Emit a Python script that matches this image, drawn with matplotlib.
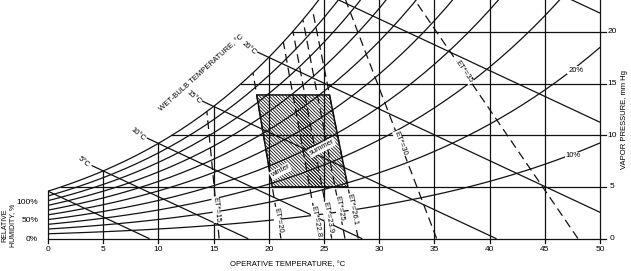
import numpy as np
import matplotlib.pyplot as plt
from matplotlib.patches import Polygon

plt.rcParams['font.family'] = ['Liberation Sans', 'DejaVu Sans']
plt.rcParams['hatch.linewidth'] = 0.6

# saturation vapour pressure (mm Hg) at 0..50 degC, steam table
t_table = np.arange(0, 51)
p_sat = np.array([4.579, 4.926, 5.294, 5.685, 6.101, 6.543, 7.013, 7.513, 8.045, 8.609,
                  9.209, 9.844, 10.518, 11.231, 11.987, 12.788, 13.634, 14.530, 15.477, 16.477,
                  17.535, 18.650, 19.827, 21.068, 22.377, 23.756, 25.209, 26.739, 28.349, 30.043,
                  31.824, 33.695, 35.663, 37.729, 39.898, 42.175, 44.563, 47.067, 49.692, 52.442,
                  55.324, 58.34, 61.50, 64.80, 68.26, 71.88, 75.65, 79.60, 83.71, 88.02, 92.51])

rh_levels = [10, 20, 30, 40, 50, 60, 70, 80, 90, 100]
wet_bulb = [0, 5, 10, 15, 20, 25, 30]
wb_slope = 0.5  # mm Hg per degC

temp_ticks = [0, 5, 10, 15, 20, 25, 30, 35, 40, 45, 50]
vp_ticks = [0, 5, 10, 15, 20]
rh_tick_labels = ['100%', '50%', '0%']
rh_tick_p = [3.5, 1.7, -0.1]

# ET* lines: temperature where the line meets p=0 and its slope dT/dp
et_names = ['15', '20', '22.8', '23.9', '25', '26.1', '30', '35']
et_t0 = [15.5, 21.1, 24.55, 25.7, 26.9, 28.1, 35.2, 48.0]
et_slope = [-0.09, -0.158, -0.17, -0.175, -0.18, -0.187, -0.357, -0.64]
et_label_p = [2.8, 1.8, 1.6, 2.0, 2.9, 2.8, 9.2, 16.1]

# comfort zones (ET* limits) and humidity limits, mm Hg
winter_et = (1, 3)   # index into et lists: 20 .. 23.9
summer_et = (2, 5)   # 22.8 .. 26.1
zone_p_low = 5.0
zone_p_high = 13.9

x_max = 50
y_top = 23.09

fig = plt.figure(figsize=(6.31, 2.71), dpi=100)
ax = fig.add_axes([48 / 631, 32.5 / 271, 552 / 631, 238.5 / 271])
ax.set_xlim(0, x_max)
ax.set_ylim(0, y_top)
ax.axis('off')

px_x = 552 / x_max
px_y = 238.5 / y_top

lc = '#111111'
lw = 0.9


def et_T(i, p):
    return et_t0[i] + et_slope[i] * p


# vertical temperature lines (stop at saturation)
for t in temp_ticks:
    top = min(np.interp(t, t_table, p_sat), y_top)
    ax.plot([t, t], [-0.4, top], color=lc, lw=lw, clip_on=False)

# horizontal vapour pressure lines
for p in vp_ticks:
    start = np.interp(p, p_sat, t_table) if p > 0 else 0
    ax.plot([start, x_max + 0.5], [p, p], color=lc, lw=lw, clip_on=False)

# relative humidity curves
for rh in rh_levels:
    ax.plot(t_table, p_sat * rh / 100, color=lc, lw=lw)

# wet-bulb lines
for wb in wet_bulb:
    ps = np.interp(wb, t_table, p_sat)
    t_end = min(wb + ps / wb_slope, x_max)
    t_start = wb - 1.0
    ax.plot([t_start, t_end], [ps + wb_slope, ps - wb_slope * (t_end - wb)], color=lc, lw=lw)
    if wb <= 20:
        ax.annotate(f'{wb}°C', (wb - 1.0, ps + wb_slope), xytext=(-9, 4),
                    textcoords='offset pixels', fontsize=5.5, rotation=-40,
                    ha='center', va='center')

# ET* lines (dashed), clipped at saturation
p_grid = np.linspace(0, y_top, 800)
for i, name in enumerate(et_names):
    tt = et_T(i, p_grid)
    ok = p_grid <= np.interp(tt, t_table, p_sat)
    p_end = p_grid[ok].max()
    ax.plot([et_T(i, 0), et_T(i, p_end)], [0, p_end], color=lc, lw=lw,
            dashes=(7, 4))
    ang = np.degrees(np.arctan2(-px_y, -et_slope[i] * px_x))
    pl = et_label_p[i]
    ax.text(et_T(i, pl), pl, f'ET*={name}', fontsize=5.5, rotation=ang,
            ha='center', va='center', rotation_mode='anchor',
            bbox=dict(fc='white', ec='none', pad=0.3))


def zone(i0, i1):
    return [(et_T(i0, zone_p_low), zone_p_low), (et_T(i1, zone_p_low), zone_p_low),
            (et_T(i1, zone_p_high), zone_p_high), (et_T(i0, zone_p_high), zone_p_high)]


ax.add_patch(Polygon(zone(*winter_et), closed=True, fill=False,
                     hatch='\\\\\\\\\\\\\\\\\\\\', ec=lc, lw=0))
ax.add_patch(Polygon(zone(*summer_et), closed=True, fill=False,
                     hatch='\\\\\\\\\\\\\\\\\\\\', ec=lc, lw=0))
ax.add_patch(Polygon(zone(winter_et[0], summer_et[1]), closed=True, fill=False,
                     ec=lc, lw=1.1))

ax.text(21.05, 6.5, 'winter', fontsize=5.5, rotation=28, ha='center', va='center',
        bbox=dict(fc='white', ec='none', pad=0.6))
ax.text(24.8, 8.8, 'summer', fontsize=5.5, rotation=28, ha='center', va='center',
        bbox=dict(fc='white', ec='none', pad=0.6))

# RH curve labels
ax.text(47.55, 8.0, '10%', fontsize=5.5, ha='center', va='center',
        bbox=dict(fc='white', ec='none', pad=0.5))
ax.text(47.8, 16.3, '20%', fontsize=5.5, ha='center', va='center',
        bbox=dict(fc='white', ec='none', pad=0.5))

# axis labels
for t in temp_ticks:
    ax.text(t, -1.05, str(t), fontsize=6, ha='center', va='center', clip_on=False)
ax.text(21.7, -2.55, 'OPERATIVE TEMPERATURE, °C', fontsize=5.5, ha='center',
        va='center', clip_on=False)
for p in vp_ticks:
    ax.text(51.1, p, str(p), fontsize=6, ha='center', va='center', clip_on=False)
ax.text(52.2, 11.5, 'VAPOR PRESSURE, mm Hg', fontsize=5.5, rotation=90,
        ha='center', va='center', clip_on=False)
for lab, p in zip(rh_tick_labels, rh_tick_p):
    ax.text(-0.9, p, lab, fontsize=6, ha='right', va='center', clip_on=False)
ax.text(-3.55, 1.3, 'RELATIVE\nHUMIDITY, %', fontsize=5, rotation=90,
        ha='center', va='center', linespacing=1.0, clip_on=False)
ax.text(13.9, 16.0, 'WET-BULB TEMPERATURE, °C', fontsize=5.5, rotation=42,
        ha='center', va='center')

fig.savefig('out.png', dpi=100)
